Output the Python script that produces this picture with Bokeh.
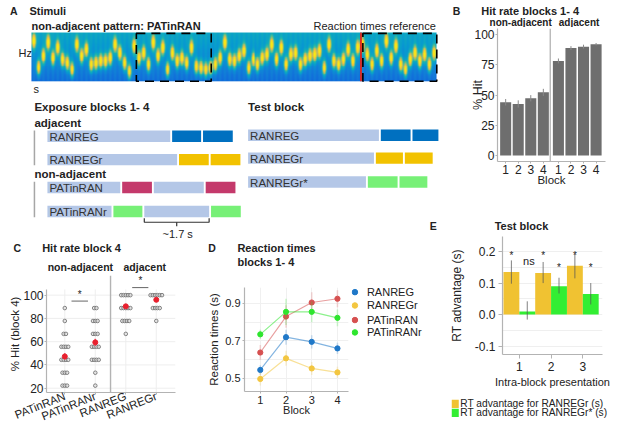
import numpy as np
from bokeh.plotting import figure
from bokeh.models import (Range1d, Label, FixedTicker, CustomJSTickFormatter,
                          PrintfTickFormatter, LinearColorMapper)
from bokeh.layouts import row, column
from bokeh.embed import file_html
from bokeh.resources import INLINE
from bokeh.core.properties import value

# ======================= DATA =======================
# A: spectrogram tone heights (fraction of frequency axis), read left to right
TONE_HEIGHTS = [0.81, 0.28, 0.51, 0.78, 0.47, 0.68, 0.44, 0.37, 0.24, 0.74, 0.51, 0.64, 0.34,
                0.37, 0.41, 0.41, 0.47, 0.74, 0.57, 0.37, 0.20, 0.71, 0.47, 0.57, 0.34, 0.78,
                0.51, 0.68, 0.24, 0.57, 0.41, 0.47, 0.37, 0.68, 0.30, 0.27, 0.24, 0.27, 0.34,
                0.47, 0.78, 0.44, 0.41, 0.51, 0.61, 0.27, 0.44, 0.34, 0.47, 0.54, 0.74, 0.44,
                0.68, 0.34, 0.54, 0.57, 0.34, 0.44, 0.51, 0.54, 0.61, 0.27, 0.74, 0.41, 0.34,
                0.44, 0.64, 0.41, 0.68, 0.74, 0.54, 0.34, 0.61, 0.41, 0.81, 0.47, 0.71, 0.34,
                0.24, 0.44, 0.57, 0.41, 0.54, 0.34, 0.57]
PATTERN_TONE_SPANS = [(22.0, 37.7), (69.5, 85.0)]   # tone indices of the dashed boxes
RT_REFERENCE_TONE = 69.1

SEG_COLORS = {"ran": "#B4C7E7", "reg": "#0070C0", "regr": "#F2C200",
              "pat": "#C4396B", "patr": "#77F077"}
EXPOSURE_NAMES = ["RANREG", "RANREGr", "PATinRAN", "PATinRANr"]
EXPOSURE_SEQS = [
    [("ran", 3.22), ("reg", 0.76), ("reg", 0.78)],
    [("ran", 3.40), ("regr", 0.78), ("regr", 0.78)],
    [("ran", 1.91), ("pat", 0.78), ("ran", 1.31), ("pat", 0.78)],
    [("ran", 1.68), ("patr", 0.76), ("ran", 1.70), ("patr", 0.78)],
]
TEST_NAMES = ["RANREG", "RANREGr", "RANREGr*"]
TEST_SEQS = [
    [("ran", 3.43), ("reg", 0.78), ("reg", 0.68)],
    [("ran", 3.30), ("regr", 0.71), ("regr", 0.73)],
    [("ran", 3.09), ("patr", 0.78), ("patr", 0.73)],
]

# B: hit rate blocks 1-4
B_BLOCKS = [1, 2, 3, 4]
B_HIT_NONADJ = [44.0, 42.6, 47.3, 52.2]
B_SE_NONADJ = [2.7, 3.0, 2.6, 2.9]
B_HIT_ADJ = [78.2, 88.8, 90.0, 92.0]
B_SE_ADJ = [2.0, 1.6, 1.6, 1.0]

# C: hit rate block 4 (participant counts per hit level)
C_CATS = ["PATinRAN", "PATinRANr", "RANREG", "RANREGr"]
C_LEVELS = [22.2, 33.3, 44.4, 55.6, 66.7, 77.8, 88.9, 100.0]
C_COUNTS_PATINRAN = [3, 3, 4, 4, 2, 1, 1, 0]
C_COUNTS_PATINRANR = [1, 1, 4, 4, 3, 3, 2, 0]
C_COUNTS_RANREG = [0, 0, 0, 0, 1, 4, 5, 5]
C_COUNTS_RANREGR = [0, 0, 0, 0, 0, 1, 4, 6]
C_MEAN = [47.3, 59.4, 90.4, 96.0]
C_SEM = [3.0, 3.2, 1.8, 1.2]

# D: reaction times blocks 1-4
D_BLOCKS = [1, 2, 3, 4]
D_RANREG = [0.545, 0.720, 0.695, 0.660]
D_RANREG_SE = [0.025, 0.040, 0.035, 0.030]
D_RANREGR = [0.497, 0.607, 0.553, 0.532]
D_RANREGR_SE = [0.035, 0.040, 0.035, 0.030]
D_PATINRAN = [0.638, 0.830, 0.905, 0.925]
D_PATINRAN_SE = [0.040, 0.060, 0.055, 0.045]
D_PATINRANR = [0.735, 0.855, 0.855, 0.823]
D_PATINRANR_SE = [0.025, 0.070, 0.055, 0.045]

# E: test block RT advantage
E_PRES = [1, 2, 3]
E_REGR = [0.135, 0.132, 0.155]
E_REGR_LO = [0.098, 0.100, 0.115]
E_REGR_HI = [0.172, 0.167, 0.193]
E_REGRS = [0.010, 0.090, 0.065]
E_REGRS_LO = [-0.016, 0.067, 0.032]
E_REGRS_HI = [0.042, 0.117, 0.100]
E_SIG_REGR = ["*", "*", "*"]
E_SIG_REGRS = ["ns", "*", "*"]

# ======================= STYLE / HELPERS =======================
FONT = "Liberation Sans"
FS = 0.998
TXT = "#222222"
AXC = "#B3B3B3"
GRIDC = "#ECECEC"
SX = 616 / 617
SY = 433 / 434


def xp(r):
    return int(round(r * SX))


def yp(r):
    return int(round(r * SY))


def fsz(px):
    return "%.1fpx" % (px * FS)


class Panel:
    def __init__(self, rect, frame=None, xr=None, yr=None, axes=True):
        rx0, ry0, rx1, ry1 = rect
        self.rx0, self.ry0 = rx0, ry0
        W = xp(rx1) - xp(rx0)
        H = yp(ry1) - yp(ry0)
        if frame is None:
            frame = rect
            xr = (0, rx1 - rx0)
            yr = (0, ry1 - ry0)
        fx0, fy0, fx1, fy1 = frame
        l = xp(fx0) - xp(rx0)
        r = xp(rx1) - xp(fx1)
        t = yp(fy0) - yp(ry0)
        b = yp(ry1) - yp(fy1)
        self.fl, self.fr, self.ft, self.fb = l, W - r, t, H - b
        self.xr, self.yr = xr, yr
        p = figure(width=W, height=H, x_range=Range1d(*xr), y_range=Range1d(*yr),
                   output_backend="svg", toolbar_location=None,
                   min_border_left=l, min_border_right=r, min_border_top=t, min_border_bottom=b,
                   x_axis_type="linear" if axes else None,
                   y_axis_type="linear" if axes else None)
        p.frame_align = False
        p.outline_line_color = None
        p.background_fill_color = "white"
        p.border_fill_color = "white"
        for g in p.grid:
            g.visible = False
        self.p = p

    def X(self, rx):
        px = rx * SX - xp(self.rx0)
        return self.xr[0] + (px - self.fl) / (self.fr - self.fl) * (self.xr[1] - self.xr[0])

    def Y(self, ry):
        py = ry * SY - yp(self.ry0)
        return self.yr[1] - (py - self.ft) / (self.fb - self.ft) * (self.yr[1] - self.yr[0])

    def label(self, rx, ry, text, size, bold=False, align="left", angle=0.0, color=TXT):
        self.p.add_layout(Label(x=self.X(rx), y=self.Y(ry), text=text, text_font=FONT,
                                text_font_size=fsz(size),
                                text_font_style="bold" if bold else "normal",
                                text_align=align, text_baseline="middle",
                                angle=angle, text_color=color))


def style_axes(p, size, tick_out=2, standoff=1, lab_size=12):
    for ax in p.axis:
        ax.axis_line_color = AXC
        ax.axis_line_width = 1.2
        ax.major_tick_line_color = AXC
        ax.minor_tick_line_color = None
        ax.major_tick_out = tick_out
        ax.major_tick_in = 0
        ax.major_label_text_font = FONT
        ax.major_label_text_font_size = fsz(size)
        ax.major_label_text_color = TXT
        ax.major_label_standoff = standoff
        ax.axis_label_text_font = FONT
        ax.axis_label_text_font_size = fsz(lab_size)
        ax.axis_label_text_font_style = "normal"
        ax.axis_label_text_color = TXT


def interp_palette(stops, n=256):
    rgb = np.array([[int(s[i:i + 2], 16) for i in (1, 3, 5)] for s in stops], float)
    t = np.linspace(0, 1, len(stops))
    out = []
    for v in np.linspace(0, 1, n):
        out.append("#%02x%02x%02x" % tuple(int(round(np.interp(v, t, rgb[:, c]))) for c in range(3)))
    return out


PARULA = interp_palette(["#352A87", "#0F5CDD", "#127DD8", "#079CCF", "#15B1B4", "#59BD8C",
                         "#A5BE6B", "#E1B952", "#FCCE2E", "#F5E317", "#F9FB0E"])

# ======================= PANEL A =======================
A = Panel((0, 0, 447, 240), axes=False)
pA = A.p

A.label(9.5, 11, "A", 10.5, bold=True)
A.label(29, 11, "Stimuli", 11, bold=True)
A.label(31, 26, "non-adjacent pattern: PATinRAN", 11, bold=True)
A.label(436, 26, "Reaction times reference", 11, align="right")
A.label(18, 53, "Hz", 11)
A.label(33, 89, "s", 11)

# spectrogram
SPX0, SPX1, SPY0, SPY1 = 31, 437, 32, 81
nx, ny = SPX1 - SPX0, 60
ntone = len(TONE_HEIGHTS)
tw = (SPX1 - SPX0) / ntone
xs = np.arange(nx) + 0.5
fr = (np.arange(ny) + 0.5) / ny
img = 0.10 + 0.19 * fr[:, None] + np.zeros((ny, nx))
for i, h in enumerate(TONE_HEIGHTS):
    xc = (i + 0.5) * tw
    gx = np.exp(-0.5 * ((xs - xc) / 1.45) ** 2)
    gy = np.exp(-0.5 * ((fr - h) / 0.095) ** 2)
    img += 0.08 * gx[None, :] + 0.74 * gx[None, :] * gy[:, None]
img = np.clip(img, 0, 0.93)
pA.image(image=[img], x=A.X(SPX0), y=A.Y(SPY1), dw=nx, dh=SPY1 - SPY0,
         color_mapper=LinearColorMapper(palette=PARULA, low=0, high=1))
rx = SPX0 + RT_REFERENCE_TONE * tw
pA.segment(x0=[A.X(rx)], y0=[A.Y(SPY0)], x1=[A.X(rx)], y1=[A.Y(SPY1)],
           line_color="#E3261C", line_width=1.8)
for (t0, t1) in PATTERN_TONE_SPANS:
    bx0 = SPX0 + t0 * tw
    bx1 = SPX0 + t1 * tw
    pA.quad(left=[A.X(bx0)], right=[A.X(bx1)], top=[A.Y(SPY0 + 1)], bottom=[A.Y(SPY1)],
            fill_color=None, line_color="black", line_width=1.6, line_dash="9 6")

# stimulus schematics
PX_PER_S = 38.2
GAP_S = 0.05
BAR_H = 11.5
A.label(34, 107, "Exposure blocks 1- 4", 11.5, bold=True)
A.label(248, 107, "Test block", 11.5, bold=True)
A.label(34, 123, "adjacent", 11.5, bold=True)
A.label(34, 174, "non-adjacent", 11.5, bold=True)


def draw_seqs(x_start, rows_y, names, seqs):
    L, R, T, B, C = [], [], [], [], []
    bounds = []
    for yc, name, seq in zip(rows_y, names, seqs):
        x = x_start
        segs = []
        for kind, dur in seq:
            x1 = x + dur * PX_PER_S
            L.append(A.X(x)); R.append(A.X(x1))
            T.append(A.Y(yc - BAR_H / 2)); B.append(A.Y(yc + BAR_H / 2))
            C.append(SEG_COLORS[kind])
            segs.append((x, x1))
            x = x1 + GAP_S * PX_PER_S
        bounds.append(segs)
        A.label(x_start + 2, yc + 0.5, name, 11.5, color="#333333")
    pA.quad(left=L, right=R, top=T, bottom=B, fill_color=C, line_color=None, level="underlay")
    return bounds


EXP_Y = [136, 159.5, 187.5, 211.5]
TEST_Y = [135, 158, 182]
exp_bounds = draw_seqs(47, EXP_Y, EXPOSURE_NAMES, EXPOSURE_SEQS)
draw_seqs(248, TEST_Y, TEST_NAMES, TEST_SEQS)

pA.segment(x0=[A.X(34), A.X(34)], x1=[A.X(34), A.X(34)],
           y0=[A.Y(EXP_Y[0] - BAR_H / 2), A.Y(EXP_Y[2] - BAR_H / 2)],
           y1=[A.Y(EXP_Y[1] + BAR_H / 2), A.Y(EXP_Y[3] + BAR_H / 2)],
           line_color="#A6A6A6", line_width=1.5)
g0, g1 = exp_bounds[3][2]
yb = EXP_Y[3] + BAR_H / 2
gm = (g0 + g1) / 2
pA.multi_line(xs=[[A.X(g0), A.X(g0), A.X(g1), A.X(g1)], [A.X(gm), A.X(gm)]],
              ys=[[A.Y(yb + 1), A.Y(yb + 5), A.Y(yb + 5), A.Y(yb + 1)], [A.Y(yb + 5), A.Y(yb + 9)]],
              line_color="#333333", line_width=1.2)
A.label(gm + 1, 234, "~1.7 s", 11, align="center")
A.label(430, 226, "E", 10.5, bold=True)

# ======================= PANEL B =======================
Bt = Panel((447, 0, 617, 27), axes=False)
Bt.label(453, 10.5, "B", 10.5, bold=True)
Bt.label(481.5, 11, "Hit rate blocks 1- 4", 11, bold=True)
Bt.label(521, 22.3, "non-adjacent", 10, bold=True, align="center")
Bt.label(579.5, 22.3, "adjacent", 10, bold=True, align="center")

Bp = Panel((447, 27, 617, 220), frame=(498.3, 28.2, 606, 161.7), xr=(0.35, 8.95), yr=(-5, 105))
pB = Bp.p
B_OFF = 4.2
bx = B_BLOCKS + [b + B_OFF for b in B_BLOCKS]
bv = B_HIT_NONADJ + B_HIT_ADJ
be = B_SE_NONADJ + B_SE_ADJ
pB.vbar(x=bx, top=bv, width=0.88, fill_color="#6E6E6E", line_color=None)
pB.segment(x0=bx, x1=bx, y0=[v - e for v, e in zip(bv, be)], y1=[v + e for v, e in zip(bv, be)],
           line_color="#8A8A8A", line_width=1)
pB.segment(x0=[4.55], x1=[4.55], y0=[-5], y1=[105], line_color=AXC, line_width=1.3)
style_axes(pB, 12, tick_out=2, standoff=1, lab_size=12)
pB.xaxis.ticker = FixedTicker(ticks=bx)
pB.xaxis.formatter = CustomJSTickFormatter(code="return (tick > 4.6 ? tick - 4.2 : tick).toFixed(0);")
pB.yaxis.ticker = FixedTicker(ticks=[0, 25, 50, 75, 100])
pB.yaxis.axis_label = "% Hit"
pB.yaxis.axis_label_standoff = -14
pB.yaxis.axis_label_text_font_size = fsz(12.5)
pB.xaxis.axis_label = "Block"
pB.xaxis.axis_label_standoff = -3
pB.xaxis.axis_label_text_font_size = fsz(11.5)

# ======================= PANEL C =======================
Ct = Panel((0, 240, 205, 274), axes=False)
Ct.label(13, 248, "C", 10.5, bold=True)
Ct.label(41.7, 248, "Hit rate block 4", 11, bold=True)
Ct.label(80, 267.5, "non-adjacent", 10.5, bold=True, align="center")
Ct.label(144.5, 267.5, "adjacent", 10.5, bold=True, align="center")

Cp = Panel((0, 274, 205, 434), frame=(46, 276, 175, 393.3), xr=(0.40, 4.63), yr=(16.3, 116.9))
pC = Cp.p
C_TOP = 104.9
pC.segment(x0=[0.40] * 5, x1=[4.63] * 5, y0=[20, 40, 60, 80, 100], y1=[20, 40, 60, 80, 100],
           line_color=GRIDC, line_width=0.9)
pC.segment(x0=[1, 2, 3, 4], x1=[1, 2, 3, 4], y0=[16.3] * 4, y1=[C_TOP] * 4,
           line_color=GRIDC, line_width=0.9)
pC.segment(x0=[2.5], x1=[2.5], y0=[16.3], y1=[116.9], line_color=AXC, line_width=1.4)
DOT_STEP = 0.075
cx, cy = [], []
for i, counts in enumerate([C_COUNTS_PATINRAN, C_COUNTS_PATINRANR, C_COUNTS_RANREG, C_COUNTS_RANREGR]):
    for lev, n in zip(C_LEVELS, counts):
        for k in range(n):
            cx.append(i + 1 + (k - (n - 1) / 2) * DOT_STEP)
            cy.append(lev)
pC.scatter(cx, cy, size=3.6, line_color="#6A6A6A", fill_color="#DDDDDD", line_width=0.8, fill_alpha=0.7)
cpos = [1, 2, 3, 4]
pC.segment(x0=cpos, x1=cpos, y0=[m - s for m, s in zip(C_MEAN, C_SEM)],
           y1=[m + s for m, s in zip(C_MEAN, C_SEM)], line_color="#F0506A", line_width=1.5, line_alpha=0.8)
pC.scatter(cpos, C_MEAN, size=5, color="#E8202E")
pC.segment(x0=[1.22, 3.21], x1=[1.76, 3.74], y0=[94.9, 106.5], y1=[94.9, 106.5],
           line_color="#555555", line_width=0.9)
pC.text(x=[1.49, 3.48], y=[96.0, 107.6], text=["*", "*"], text_font=value(FONT), text_font_size="10px",
        text_align="center", text_baseline="bottom", text_color="#222222")
style_axes(pC, 12, tick_out=2, standoff=1, lab_size=11.5)
pC.yaxis.ticker = FixedTicker(ticks=[20, 40, 60, 80, 100])
pC.yaxis.bounds = (16.3, C_TOP)
pC.yaxis.axis_label = "% Hit (block 4)"
pC.yaxis.axis_label_standoff = -1
pC.xaxis.ticker = FixedTicker(ticks=cpos)
pC.xaxis.major_label_overrides = {i + 1: c for i, c in enumerate(C_CATS)}
pC.xaxis.major_label_orientation = 0.38
pC.xaxis.major_label_text_font_size = fsz(11.5)

# ======================= PANEL D =======================
Dt = Panel((205, 240, 447, 272), axes=False)
Dt.label(208, 248, "D", 10.5, bold=True)
Dt.label(237.3, 248, "Reaction times", 11, bold=True)
Dt.label(237.3, 261.7, "blocks 1- 4", 11, bold=True)

Dp = Panel((205, 272, 352, 434), frame=(237, 288, 349, 392), xr=(0.386, 4.43), yr=(0.43, 0.985))
pD = Dp.p
pD.xgrid.visible = True
pD.ygrid.visible = True
pD.xgrid.ticker = FixedTicker(ticks=D_BLOCKS)
pD.ygrid.ticker = FixedTicker(ticks=[0.5, 0.6, 0.7, 0.8, 0.9])
pD.grid.grid_line_color = "#F0F0F0"
series = [("RANREG", D_RANREG, D_RANREG_SE, "#1F78C8"),
          ("RANREGr", D_RANREGR, D_RANREGR_SE, "#F3C640"),
          ("PATinRAN", D_PATINRAN, D_PATINRAN_SE, "#D65050"),
          ("PATinRANr", D_PATINRANR, D_PATINRANR_SE, "#2EE52E")]
for name, vals, se, col in series:
    pD.segment(x0=D_BLOCKS, x1=D_BLOCKS, y0=[v - s for v, s in zip(vals, se)],
               y1=[v + s for v, s in zip(vals, se)], line_color=col, line_alpha=0.22, line_width=1.6)
    pD.line(D_BLOCKS, vals, line_color=col, line_alpha=0.55, line_width=1.2)
    pD.scatter(D_BLOCKS, vals, size=5.2, color=col)
style_axes(pD, 11, tick_out=2, standoff=2, lab_size=11.5)
pD.xaxis.ticker = FixedTicker(ticks=D_BLOCKS)
pD.yaxis.ticker = FixedTicker(ticks=[0.5, 0.7, 0.9])
pD.yaxis.axis_label = "Reaction times (s)"
pD.yaxis.axis_label_standoff = 2
pD.xaxis.axis_label = "Block"
pD.xaxis.axis_label_standoff = -3
pD.xaxis.axis_label_text_font_size = fsz(11)

Dl = Panel((352, 272, 447, 434), axes=False)
LEG_Y = [292.3, 305.7, 320.3, 332.7]
Dl.p.scatter([Dl.X(355)] * 4, [Dl.Y(v) for v in LEG_Y], size=5.5, color=[s[3] for s in series])
for yy, s in zip(LEG_Y, series):
    Dl.label(367, yy, s[0], 11)

# ======================= PANEL E =======================
Et = Panel((447, 220, 617, 234), axes=False)
Et.label(495, 226.5, "Test block", 11, bold=True)

Ep = Panel((447, 234, 617, 396), frame=(496, 237, 603, 355), xr=(0.47, 3.62), yr=(-0.127, 0.248))
pE = Ep.p
pE.ygrid.visible = True
pE.ygrid.ticker = FixedTicker(ticks=[-0.1, -0.05, 0, 0.05, 0.1, 0.15, 0.2])
pE.ygrid.grid_line_color = "#EFEFEF"
YEL, GRN = "#F0C232", "#33EE33"
xy = [g - 0.25 for g in E_PRES]
xg = [g + 0.25 for g in E_PRES]
pE.vbar(x=xy, top=E_REGR, width=0.5, fill_color=YEL, line_color=None)
pE.vbar(x=xg, top=E_REGRS, width=0.5, fill_color=GRN, line_color=None)
pE.segment(x0=xy + xg, x1=xy + xg, y0=E_REGR_LO + E_REGRS_LO, y1=E_REGR_HI + E_REGRS_HI,
           line_color="#555555", line_alpha=0.75, line_width=1)
sig_x = xy + xg
sig_t = E_SIG_REGR + E_SIG_REGRS
sig_y = [0.2, 0.2, 0.2, 0.169, 0.161, 0.161]
star_i = [i for i in range(6) if sig_t[i] == "*"]
ns_i = [i for i in range(6) if sig_t[i] == "ns"]
pE.text(x=[sig_x[i] for i in star_i], y=[sig_y[i] - 0.012 for i in star_i],
        text=[sig_t[i] for i in star_i], text_font=value(FONT), text_font_size="10px",
        text_align="center", text_baseline="middle", text_color="#222222")
pE.text(x=[sig_x[i] + 0.05 for i in ns_i], y=[sig_y[i] for i in ns_i],
        text=[sig_t[i] for i in ns_i], text_font=value(FONT), text_font_size=fsz(11),
        text_align="center", text_baseline="middle", text_color="#222222")
style_axes(pE, 12, tick_out=4, standoff=3, lab_size=12)
pE.xaxis.ticker = FixedTicker(ticks=E_PRES)
pE.yaxis.ticker = FixedTicker(ticks=[-0.1, 0.0, 0.1, 0.2])
pE.yaxis.formatter = PrintfTickFormatter(format="%.1f")
pE.yaxis.axis_label = "RT advantage (s)"
pE.yaxis.axis_label_standoff = 8
pE.xaxis.axis_label = "Intra-block presentation"
pE.xaxis.axis_label_standoff = 2
pE.xaxis.axis_label_text_font_size = fsz(11)

El = Panel((447, 396, 617, 434), axes=False)
LEG_LABELS = ["RT advantage for RANREGr (s)", "RT advantage for RANREGr* (s)"]
LEG_COLORS = [YEL, GRN]
ly = [404.3, 413.3]
El.p.rect(x=[El.X(455.5)] * 2, y=[El.Y(v) for v in ly], width=7, height=8.2,
          fill_color=LEG_COLORS, line_color=None)
for yy, t in zip(ly, LEG_LABELS):
    El.label(460.5, yy, t, 10.2)

# ======================= LAYOUT =======================
left = column(A.p, row(column(Ct.p, Cp.p), column(Dt.p, row(Dp.p, Dl.p))))
right = column(Bt.p, Bp.p, Et.p, Ep.p, El.p)
layout = row(left, right)
open("out.html", "w").write(file_html(layout, INLINE))
